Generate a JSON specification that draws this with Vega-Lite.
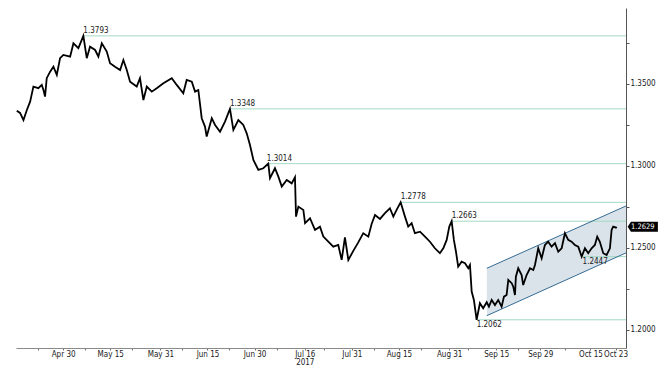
{
  "$schema": "https://vega.github.io/schema/vega-lite/v6.json",
  "width": 610,
  "height": 340,
  "autosize": {"type": "none"},
  "padding": {"left": 16, "top": 8, "right": 38, "bottom": 20},
  "background": "white",
  "config": {
    "view": {"stroke": null},
    "font": "Liberation Sans Narrow, DejaVu Sans Condensed, sans-serif"
  },
  "datasets": {
    "price": [
      {"d":"2017-04-15T06:00","p":1.3337},{"d":"2017-04-16T07:00","p":1.3323},{"d":"2017-04-17T09:00","p":1.3280},{"d":"2017-04-18T11:00","p":1.3341},{"d":"2017-04-19T12:00","p":1.3392},{"d":"2017-04-20T13:00","p":1.3484},{"d":"2017-04-22T03:00","p":1.3474},{"d":"2017-04-23T05:00","p":1.3494},{"d":"2017-04-23T18:00","p":1.3463},{"d":"2017-04-24T06:00","p":1.3423},{"d":"2017-04-24T19:00","p":1.3535},{"d":"2017-04-25T21:00","p":1.3575},{"d":"2017-04-26T22:00","p":1.3605},{"d":"2017-04-28T00:00","p":1.3555},{"d":"2017-04-29T01:00","p":1.3657},{"d":"2017-04-30T02:00","p":1.3677},
      {"d":"2017-05-02T06:00","p":1.3666},{"d":"2017-05-03T07:00","p":1.3748},{"d":"2017-05-04T21:00","p":1.3718},{"d":"2017-05-06T11:00","p":1.3793},{"d":"2017-05-07T13:00","p":1.3657},{"d":"2017-05-08T14:00","p":1.3727},{"d":"2017-05-10T05:00","p":1.3707},{"d":"2017-05-11T06:00","p":1.3666},{"d":"2017-05-12T08:00","p":1.3748},{"d":"2017-05-13T22:00","p":1.3697},{"d":"2017-05-14T23:00","p":1.3626},{"d":"2017-05-16T13:00","p":1.3605},{"d":"2017-05-18T04:00","p":1.3585},{"d":"2017-05-19T05:00","p":1.3646},{"d":"2017-05-20T07:00","p":1.3585},{"d":"2017-05-21T08:00","p":1.3514},{"d":"2017-05-23T11:00","p":1.3484},{"d":"2017-05-24T12:00","p":1.3535},{"d":"2017-05-25T14:00","p":1.3402},{"d":"2017-05-26T16:00","p":1.3484},{"d":"2017-05-28T06:00","p":1.3453},{"d":"2017-05-29T20:00","p":1.3474},{"d":"2017-05-31T23:00","p":1.3504},
      {"d":"2017-06-03T15:00","p":1.3535},{"d":"2017-06-05T05:00","p":1.3494},{"d":"2017-06-07T07:00","p":1.3443},{"d":"2017-06-08T09:00","p":1.3524},{"d":"2017-06-10T00:00","p":1.3514},{"d":"2017-06-11T01:00","p":1.3453},{"d":"2017-06-12T02:00","p":1.3463},{"d":"2017-06-13T04:00","p":1.3291},{"d":"2017-06-14T05:00","p":1.3240},{"d":"2017-06-14T18:00","p":1.3179},{"d":"2017-06-16T09:00","p":1.3291},{"d":"2017-06-17T10:00","p":1.3250},{"d":"2017-06-19T00:00","p":1.3209},{"d":"2017-06-20T14:00","p":1.3270},{"d":"2017-06-22T04:00","p":1.3348},{"d":"2017-06-23T06:00","p":1.3220},{"d":"2017-06-24T20:00","p":1.3280},{"d":"2017-06-26T10:00","p":1.3250},{"d":"2017-06-27T12:00","p":1.3199},{"d":"2017-06-28T13:00","p":1.3128},{"d":"2017-06-29T15:00","p":1.3037},
      {"d":"2017-07-01T05:00","p":1.2976},{"d":"2017-07-02T19:00","p":1.2986},{"d":"2017-07-04T09:00","p":1.3014},{"d":"2017-07-04T22:00","p":1.2925},{"d":"2017-07-06T12:00","p":1.2986},{"d":"2017-07-07T14:00","p":1.2935},{"d":"2017-07-08T16:00","p":1.2874},{"d":"2017-07-10T06:00","p":1.2915},{"d":"2017-07-11T20:00","p":1.2894},{"d":"2017-07-12T21:00","p":1.2931},{"d":"2017-07-13T05:00","p":1.2691},{"d":"2017-07-13T23:00","p":1.2752},{"d":"2017-07-15T13:00","p":1.2732},{"d":"2017-07-16T02:00","p":1.2651},{"d":"2017-07-17T16:00","p":1.2681},{"d":"2017-07-19T06:00","p":1.2610},{"d":"2017-07-20T20:00","p":1.2630},{"d":"2017-07-21T22:00","p":1.2569},{"d":"2017-07-23T12:00","p":1.2538},{"d":"2017-07-25T02:00","p":1.2508},{"d":"2017-07-26T16:00","p":1.2518},{"d":"2017-07-27T18:00","p":1.2427},{"d":"2017-07-28T19:00","p":1.2564},{"d":"2017-07-29T21:00","p":1.2427},{"d":"2017-07-31T11:00","p":1.2482},
      {"d":"2017-08-02T01:00","p":1.2534},{"d":"2017-08-03T15:00","p":1.2590},{"d":"2017-08-05T06:00","p":1.2569},{"d":"2017-08-06T07:00","p":1.2646},{"d":"2017-08-07T09:00","p":1.2701},{"d":"2017-08-08T23:00","p":1.2677},{"d":"2017-08-10T13:00","p":1.2712},{"d":"2017-08-12T03:00","p":1.2742},{"d":"2017-08-13T05:00","p":1.2691},{"d":"2017-08-14T06:00","p":1.2732},{"d":"2017-08-15T13:00","p":1.2778},{"d":"2017-08-16T22:00","p":1.2691},{"d":"2017-08-17T23:00","p":1.2630},{"d":"2017-08-19T01:00","p":1.2651},{"d":"2017-08-20T02:00","p":1.2590},{"d":"2017-08-21T17:00","p":1.2599},{"d":"2017-08-23T07:00","p":1.2569},{"d":"2017-08-24T21:00","p":1.2538},{"d":"2017-08-26T11:00","p":1.2498},{"d":"2017-08-28T01:00","p":1.2468},{"d":"2017-08-29T03:00","p":1.2498},{"d":"2017-08-30T05:00","p":1.2549},{"d":"2017-08-31T01:00","p":1.2630},{"d":"2017-08-31T19:00","p":1.2663},
      {"d":"2017-09-01T12:00","p":1.2549},{"d":"2017-09-02T04:00","p":1.2477},{"d":"2017-09-02T21:00","p":1.2386},{"d":"2017-09-03T23:00","p":1.2416},{"d":"2017-09-05T01:00","p":1.2407},{"d":"2017-09-06T02:00","p":1.2376},{"d":"2017-09-06T15:00","p":1.2396},{"d":"2017-09-07T04:00","p":1.2234},{"d":"2017-09-07T21:00","p":1.2183},{"d":"2017-09-08T18:00","p":1.2062},{"d":"2017-09-09T19:00","p":1.2163},{"d":"2017-09-10T20:00","p":1.2132},{"d":"2017-09-11T23:00","p":1.2169},{"d":"2017-09-12T16:00","p":1.2142},{"d":"2017-09-13T13:00","p":1.2183},{"d":"2017-09-14T14:00","p":1.2152},{"d":"2017-09-15T15:00","p":1.2183},{"d":"2017-09-16T17:00","p":1.2142},{"d":"2017-09-17T11:00","p":1.2203},{"d":"2017-09-18T07:00","p":1.2213},{"d":"2017-09-18T20:00","p":1.2305},{"d":"2017-09-19T22:00","p":1.2285},{"d":"2017-09-20T10:00","p":1.2264},{"d":"2017-09-20T23:00","p":1.2213},{"d":"2017-09-21T06:00","p":1.2325},{"d":"2017-09-22T00:00","p":1.2376},{"d":"2017-09-23T02:00","p":1.2335},{"d":"2017-09-23T14:00","p":1.2274},{"d":"2017-09-24T16:00","p":1.2335},{"d":"2017-09-25T18:00","p":1.2376},{"d":"2017-09-26T19:00","p":1.2366},{"d":"2017-09-27T08:00","p":1.2396},{"d":"2017-09-28T09:00","p":1.2498},{"d":"2017-09-29T11:00","p":1.2437},{"d":"2017-09-30T12:00","p":1.2518},
      {"d":"2017-10-01T13:00","p":1.2538},{"d":"2017-10-02T15:00","p":1.2508},{"d":"2017-10-03T17:00","p":1.2529},{"d":"2017-10-04T18:00","p":1.2477},{"d":"2017-10-05T20:00","p":1.2498},{"d":"2017-10-06T21:00","p":1.2590},{"d":"2017-10-07T22:00","p":1.2549},{"d":"2017-10-09T00:00","p":1.2538},{"d":"2017-10-10T01:00","p":1.2518},{"d":"2017-10-11T03:00","p":1.2508},{"d":"2017-10-12T05:00","p":1.2447},{"d":"2017-10-13T06:00","p":1.2498},{"d":"2017-10-14T07:00","p":1.2468},{"d":"2017-10-15T09:00","p":1.2498},{"d":"2017-10-16T10:00","p":1.2518},{"d":"2017-10-17T04:00","p":1.2569},{"d":"2017-10-18T00:00","p":1.2538},{"d":"2017-10-19T02:00","p":1.2468},{"d":"2017-10-20T04:00","p":1.2457},{"d":"2017-10-21T05:00","p":1.2498},{"d":"2017-10-21T18:00","p":1.2610},{"d":"2017-10-22T06:00","p":1.2630},{"d":"2017-10-23T03:00","p":1.2624},{"d":"2017-10-23T08:00","p":1.2629}
    ],
    "channel": [
      {"d":"2017-09-12T00:00","lo":1.2087,"hi":1.2376},
      {"d":"2017-10-26T08:00","lo":1.2470,"hi":1.2756}
    ],
    "levels": [
      {"s":"2017-05-06T11:00","e":"2017-10-26T08:00","v":1.3793,"kind":"high"},
      {"s":"2017-06-22T04:00","e":"2017-10-26T08:00","v":1.3348,"kind":"high"},
      {"s":"2017-07-03T22:00","e":"2017-10-26T08:00","v":1.3014,"kind":"high"},
      {"s":"2017-08-15T13:00","e":"2017-10-26T08:00","v":1.2778,"kind":"high"},
      {"s":"2017-08-31T19:00","e":"2017-10-26T08:00","v":1.2663,"kind":"high"},
      {"s":"2017-10-12T12:00","e":"2017-10-26T08:00","v":1.2447,"kind":"low"},
      {"s":"2017-09-08T18:00","e":"2017-10-26T08:00","v":1.2062,"kind":"low"}
    ],
    "last": [
      {"d":"2017-10-26T08:00","p":1.2629}
    ]
  },
  "encoding": {
    "x": {
      "field": "d",
      "type": "temporal",
      "scale": {"domain": [{"year":2017,"month":4,"date":15},{"year":2017,"month":10,"date":26,"hours":8}]},
      "axis": {
        "title": null,
        "orient": "bottom",
        "values": [
          {"year":2017,"month":4,"date":22},{"year":2017,"month":4,"date":30},{"year":2017,"month":5,"date":7},{"year":2017,"month":5,"date":15},{"year":2017,"month":5,"date":22},{"year":2017,"month":5,"date":31},{"year":2017,"month":6,"date":7},{"year":2017,"month":6,"date":15},{"year":2017,"month":6,"date":22},{"year":2017,"month":6,"date":30},{"year":2017,"month":7,"date":7},{"year":2017,"month":7,"date":16},{"year":2017,"month":7,"date":22},{"year":2017,"month":7,"date":31},{"year":2017,"month":8,"date":7},{"year":2017,"month":8,"date":15},{"year":2017,"month":8,"date":22},{"year":2017,"month":8,"date":31},{"year":2017,"month":9,"date":6},{"year":2017,"month":9,"date":15},{"year":2017,"month":9,"date":22},{"year":2017,"month":9,"date":29},{"year":2017,"month":10,"date":7},{"year":2017,"month":10,"date":15},{"year":2017,"month":10,"date":23}
        ],
        "labelExpr": "indexof([6,7,22], date(datum.value)) >= 0 ? '' : (timeFormat(datum.value, '%b %d') == 'Jul 16' ? ['Jul 16', '2017'] : timeFormat(datum.value, '%b %d'))",
        "labelOverlap": false,
        "labelFlush": false,
        "labelFontSize": 8,
        "labelColor": "#1a1a1a",
        "labelPadding": 0,
        "labelLineHeight": 8,
        "tickSize": 2,
        "tickColor": "#777",
        "domainColor": "#8a8a8a",
        "grid": false
      }
    },
    "y": {
      "type": "quantitative",
      "scale": {"domain": [1.189, 1.3963], "nice": false, "zero": false},
      "axis": {
        "title": null,
        "orient": "right",
        "values": [1.2, 1.225, 1.25, 1.275, 1.3, 1.325, 1.35, 1.375],
        "labelExpr": "round(datum.value * 1000) % 50 == 0 ? format(datum.value, '.4f') : ''",
        "labelFontSize": 8,
        "labelColor": "#1a1a1a",
        "labelPadding": 1,
        "tickSize": 3,
        "tickColor": "#555",
        "domainColor": "#555",
        "grid": false
      }
    }
  },
  "layer": [
    {
      "data": {"name": "channel"},
      "mark": {"type": "area", "color": "#dae2ea", "opacity": 1},
      "encoding": {"y": {"field": "lo"}, "y2": {"field": "hi"}}
    },
    {
      "data": {"name": "levels"},
      "mark": {"type": "rule", "color": "#a3d9c4", "strokeWidth": 1},
      "encoding": {"x": {"field": "s"}, "x2": {"field": "e"}, "y": {"field": "v"}}
    },
    {
      "data": {"name": "channel"},
      "mark": {"type": "line", "color": "#346c94", "strokeWidth": 1},
      "encoding": {"y": {"field": "lo"}}
    },
    {
      "data": {"name": "channel"},
      "mark": {"type": "line", "color": "#346c94", "strokeWidth": 1},
      "encoding": {"y": {"field": "hi"}}
    },
    {
      "data": {"name": "price"},
      "mark": {"type": "line", "color": "#000000", "strokeWidth": 1.8, "strokeJoin": "miter"},
      "encoding": {"y": {"field": "p"}}
    },
    {
      "data": {"name": "levels"},
      "transform": [{"filter": "datum.kind == 'high'"}],
      "mark": {"type": "text", "align": "left", "baseline": "bottom", "dy": -1, "fontSize": 8, "color": "#1a1a1a"},
      "encoding": {"x": {"field": "s"}, "y": {"field": "v"}, "text": {"field": "v", "type": "quantitative", "format": ".4f"}}
    },
    {
      "data": {"name": "levels"},
      "transform": [{"filter": "datum.kind == 'low'"}],
      "mark": {"type": "text", "align": "left", "baseline": "top", "dy": 1, "fontSize": 8, "color": "#1a1a1a"},
      "encoding": {"x": {"field": "s"}, "y": {"field": "v"}, "text": {"field": "v", "type": "quantitative", "format": ".4f"}}
    },
    {
      "data": {"name": "last"},
      "mark": {"type": "point", "filled": true, "color": "#000000", "opacity": 1, "size": 484, "clip": false, "shape": "M0.15,0 L0.45,-0.45 L2.9,-0.45 L2.9,0.45 L0.45,0.45 Z"},
      "encoding": {"y": {"field": "p"}}
    },
    {
      "data": {"name": "last"},
      "mark": {"type": "text", "align": "left", "baseline": "middle", "dx": 5, "fontSize": 7.5, "color": "#ffffff", "clip": false},
      "encoding": {"y": {"field": "p"}, "text": {"field": "p", "type": "quantitative", "format": ".4f"}}
    }
  ]
}
